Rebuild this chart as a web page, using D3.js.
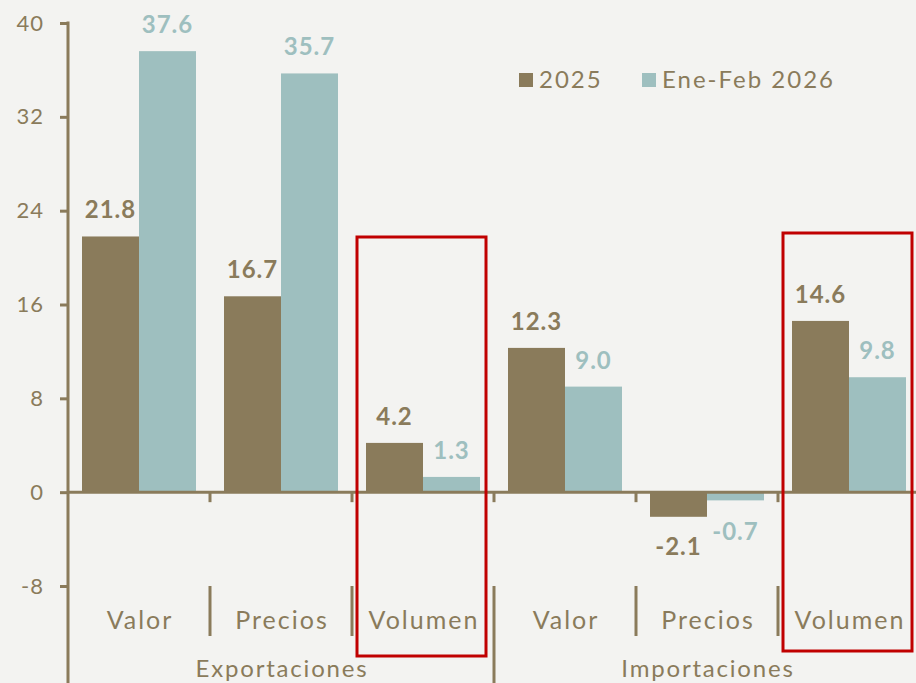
<!DOCTYPE html>
<html>
<head>
<meta charset="utf-8">
<script src="https://cdn.jsdelivr.net/npm/d3@7"></script>
<style>
  html, body { margin: 0; padding: 0; background: #f3f3f1; }
  svg { display: block; }
  text { font-family: "Lato", "Noto Sans", sans-serif; }
</style>
</head>
<body>
<div id="chart"></div>
<script>
// data
var categories = ["Valor", "Precios", "Volumen", "Valor", "Precios", "Volumen"];
var groups = ["Exportaciones", "Importaciones"];
var series = ["2025", "Ene-Feb 2026"];
var values2025 = [21.8, 16.7, 4.2, 12.3, -2.1, 14.6];
var values2026 = [37.6, 35.7, 1.3, 9.0, -0.7, 9.8];
var yTicks = [40, 32, 24, 16, 8, 0, -8];
var highlighted = [2, 5];

function init(){

    var w = 916;
    var h = 683;
    var brown = "#8a7b5b";
    var teal = "#9ebfbf";
    var red = "#c00000";
    var colors = [brown, teal];

    var svg = d3.select("#chart")
        .append("svg")
        .attr("width", w)
        .attr("height", h);

    var y = d3.scaleLinear()
        .domain([-8, 40])
        .range([586, 23]);

    var x = d3.scaleBand()
        .domain(d3.range(categories.length))
        .range([68, 68 + 6 * 142]);

    var xs = d3.scaleBand()
        .domain(series)
        .range([14, x.bandwidth() - 14]);

    var rows = categories.map(function(c, i){
        return { i: i, cat: c, vals: [values2025[i], values2026[i]] };
    });

    // bars
    var g = svg.selectAll("g.cat")
        .data(rows)
        .enter()
        .append("g")
        .attr("class", "cat")
        .attr("transform", function(d){ return "translate(" + x(d.i) + ",0)"; });

    g.selectAll("rect")
        .data(function(d){ return d.vals.map(function(v, k){ return { v: v, k: k }; }); })
        .enter()
        .append("rect")
        .attr("x", function(d){ return xs(series[d.k]); })
        .attr("y", function(d){ return y(Math.max(0, d.v)); })
        .attr("width", xs.bandwidth())
        .attr("height", function(d){ return Math.abs(y(d.v) - y(0)); })
        .attr("fill", function(d){ return colors[d.k]; });

    g.selectAll("text.val")
        .data(function(d){ return d.vals.map(function(v, k){ return { v: v, k: k }; }); })
        .enter()
        .append("text")
        .attr("class", "val")
        .attr("x", function(d){ return xs(series[d.k]) + xs.bandwidth() / 2; })
        .attr("y", function(d){
            if (d.v >= 0) return y(d.v) - 18;
            return y(d.v) + (d.k == 0 ? 38 : 40);
        })
        .attr("text-anchor", "middle")
        .attr("font-size", 24)
        .attr("font-weight", "bold")
        .attr("letter-spacing", 1)
        .attr("fill", function(d){ return colors[d.k]; })
        .text(function(d){ return d.v.toFixed(1); });

    // y axis
    var yAxis = d3.axisLeft(y)
        .tickValues(yTicks)
        .tickSize(8)
        .tickPadding(16)
        .tickFormat(function(d){ return String(d); });

    var ya = svg.append("g")
        .attr("transform", "translate(68,0)")
        .call(yAxis);
    ya.select(".domain").remove();
    ya.selectAll("line").attr("stroke", brown).attr("stroke-width", 3);
    ya.selectAll("text")
        .attr("fill", brown)
        .attr("font-size", 22)
        .attr("letter-spacing", 1)
        .style("font-family", "Lato, 'Noto Sans', sans-serif");

    svg.append("line")
        .attr("x1", 68).attr("x2", 68)
        .attr("y1", y(40) - 1.5).attr("y2", h)
        .attr("stroke", brown).attr("stroke-width", 3);

    // zero line and small ticks
    svg.append("line")
        .attr("x1", 68).attr("x2", w)
        .attr("y1", y(0)).attr("y2", y(0))
        .attr("stroke", brown).attr("stroke-width", 3);

    svg.selectAll("line.zt")
        .data(d3.range(1, categories.length))
        .enter()
        .append("line")
        .attr("class", "zt")
        .attr("x1", function(d){ return x(d); })
        .attr("x2", function(d){ return x(d); })
        .attr("y1", y(0))
        .attr("y2", y(0) + 10)
        .attr("stroke", brown).attr("stroke-width", 3);

    // category separators
    svg.selectAll("line.sep")
        .data(d3.range(1, categories.length))
        .enter()
        .append("line")
        .attr("class", "sep")
        .attr("x1", function(d){ return x(d); })
        .attr("x2", function(d){ return x(d); })
        .attr("y1", y(-8))
        .attr("y2", function(d){ return d % 3 == 0 ? h : y(-8) + 50; })
        .attr("stroke", brown).attr("stroke-width", 3);

    svg.selectAll("text.cat")
        .data(rows)
        .enter()
        .append("text")
        .attr("class", "cat")
        .attr("x", function(d){ return x(d.i) + x.bandwidth() / 2 + 1; })
        .attr("y", 629)
        .attr("text-anchor", "middle")
        .attr("font-size", 25)
        .attr("letter-spacing", 2)
        .attr("fill", brown)
        .text(function(d){ return d.cat; });

    svg.selectAll("text.grp")
        .data(groups)
        .enter()
        .append("text")
        .attr("class", "grp")
        .attr("x", function(d, i){ return x(i * 3) + x.bandwidth() * 1.5 + 1; })
        .attr("y", 677)
        .attr("text-anchor", "middle")
        .attr("font-size", 24)
        .attr("letter-spacing", 1.8)
        .attr("fill", brown)
        .text(function(d){ return d; });

    // red highlight boxes
    var boxTop = [237, 233];
    var boxBottom = [656, 651];
    svg.selectAll("rect.box")
        .data(highlighted)
        .enter()
        .append("rect")
        .attr("class", "box")
        .attr("x", function(d){ return x(d) + 5; })
        .attr("y", function(d, i){ return boxTop[i]; })
        .attr("width", x.bandwidth() - 13)
        .attr("height", function(d, i){ return boxBottom[i] - boxTop[i]; })
        .attr("fill", "none")
        .attr("stroke", red)
        .attr("stroke-width", 3);

    // legend
    var legX = [519, 642];
    var leg = svg.selectAll("g.leg")
        .data(series)
        .enter()
        .append("g")
        .attr("class", "leg")
        .attr("transform", function(d, i){ return "translate(" + legX[i] + ",73)"; });

    leg.append("rect")
        .attr("width", 14)
        .attr("height", 14)
        .attr("fill", function(d, i){ return colors[i]; });

    leg.append("text")
        .attr("x", 20)
        .attr("y", 15)
        .attr("font-size", 24)
        .attr("letter-spacing", 2)
        .attr("fill", brown)
        .text(function(d){ return d; });
}
window.onload = init;
</script>
</body>
</html>
